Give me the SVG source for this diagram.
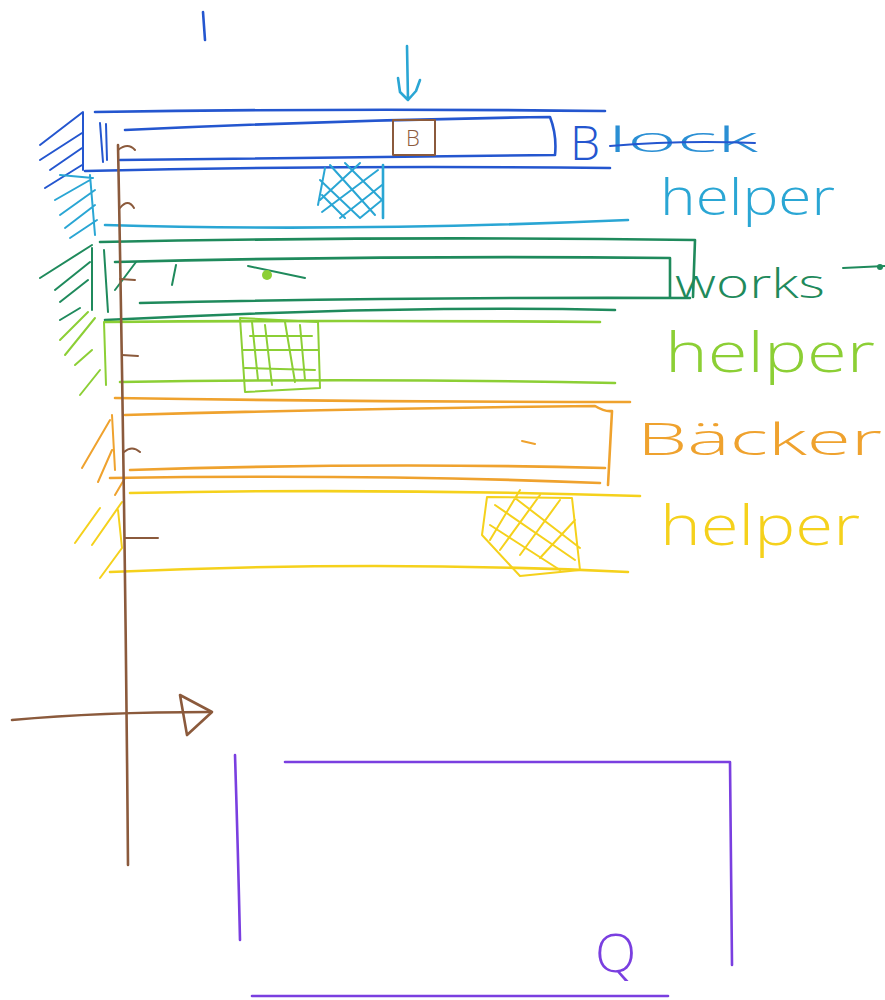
<svg xmlns="http://www.w3.org/2000/svg" width="885" height="1000" viewBox="0 0 885 1000">
<style>
.s{fill:none;stroke-width:2.6;stroke-linecap:round;stroke-linejoin:round}
.h{stroke-width:2}
.blue{stroke:#2456cf}.cyan{stroke:#2aa6d4}.teal{stroke:#1f8a5c}.lg{stroke:#8ccf35}
.or{stroke:#efa22e}.ye{stroke:#f5d11c}.br{stroke:#8b5a3c}.pu{stroke:#7a3fe0}
.t{font-family:"Open Sans","DejaVu Sans",sans-serif;font-weight:300}
</style>
<rect width="885" height="1000" fill="#fff"/>
<path class="s blue" d="M203 12 L205 40"/>
<!-- top arrow -->
<g id="load-arrow">
<path class="s cyan" d="M407 46 L408 100 M398 78 L400 92 L408 100 L416 91 L420 80"/>
</g>
<!-- Block band -->
<g id="block">
<path class="s blue" d="M95 112 Q350 108 605 111"/>
<path class="s blue" d="M125 130 Q340 120 550 117 Q557 135 555 155 Q340 158 120 160"/>
<path class="s blue" d="M85 171 Q340 165 610 168"/>
<path class="s blue h" d="M40 145 L83 112 L83 170 M40 160 L82 133 M50 170 L82 148 M45 188 L82 165 M100 123 L103 162 M106 124 L107 160"/>
<rect x="393" y="120" width="42" height="35" class="s br h"/>
<text x="413" y="146" class="t" font-size="22" fill="#8b5a3c" text-anchor="middle">B</text>
<text x="570" y="160" class="t" font-size="48" fill="#2456cf">B</text>
<text x="608" y="152" class="t" font-size="34" fill="#2a8fd4" textLength="150" lengthAdjust="spacingAndGlyphs">lock</text>
<path class="s blue h" d="M610 146 Q680 140 755 143"/>
</g>
<!-- cyan helper -->
<g id="helper-1">
<path class="s cyan" d="M105 225 Q350 232 628 220"/>
<path class="s cyan" d="M383 165 L383 218"/>
<path class="s cyan h" d="M325 168 L318 205 M320 200 L360 163 M322 212 L378 170 M340 218 L382 185 M360 218 L382 200 M330 165 L375 215 M320 180 L360 218 M345 163 L382 200 M322 195 L345 218"/>
<path class="s cyan h" d="M60 175 L93 178 M55 200 L90 180 M60 215 L95 190 M65 228 L95 205 M70 238 L97 220 M90 175 L95 235"/>
<text x="660" y="215" class="t" font-size="50" fill="#2aa6d4" textLength="175" lengthAdjust="spacingAndGlyphs">helper</text>
</g>
<!-- green works -->
<g id="works">
<path class="s teal" d="M100 242 Q400 236 695 240 L693 297"/>
<path class="s teal" d="M115 262 Q400 255 670 258 L670 297"/>
<path class="s teal" d="M140 303 Q400 297 690 298"/>
<path class="s teal" d="M105 320 Q400 305 615 310"/>
<path class="s teal h" d="M40 278 L92 245 M55 290 L90 262 M60 302 L88 280 M60 320 L80 308 M92 248 L92 310 M104 250 L108 312 M136 262 L115 290 M176 265 L172 285 M248 266 L305 278"/>
<circle cx="267" cy="275" r="5" fill="#8ccf35"/>
<text x="675" y="298" class="t" font-size="40" fill="#1f8a5c" textLength="150" lengthAdjust="spacingAndGlyphs">works</text>
<path class="s teal h" d="M843 268 L885 266"/>
<circle cx="880" cy="267" r="3" fill="#1f8a5c"/>
</g>
<!-- light green helper -->
<g id="helper-2">
<path class="s lg" d="M105 322 Q350 320 600 322"/>
<path class="s lg" d="M120 382 Q370 378 615 383"/>
<path class="s lg h" d="M240 318 L318 322 L320 388 L245 392 Z M252 322 L258 380 M265 325 L272 385 M285 322 L295 382 M300 325 L305 380 M243 350 L318 350 M245 368 L315 370 M250 336 L312 336"/>
<path class="s lg h" d="M60 340 L88 312 M65 355 L95 318 M75 365 L92 350 M80 395 L100 370 M104 322 L106 385"/>
<text x="665" y="372" class="t" font-size="56" fill="#8ccf35" textLength="210" lengthAdjust="spacingAndGlyphs">helper</text>
</g>
<!-- orange Baecker -->
<g id="baecker">
<path class="s or" d="M115 398 Q370 402 630 402"/>
<path class="s or" d="M125 415 Q380 408 595 406 Q605 412 612 411 L608 485"/>
<path class="s or" d="M130 470 Q380 462 605 468"/>
<path class="s or" d="M110 478 Q380 474 600 483"/>
<path class="s or h" d="M82 468 L110 420 M98 482 L112 450 M115 495 L125 478 M112 415 L115 470 M522 441 L535 444"/>
<text x="637" y="455" class="t" font-size="44" fill="#efa22e" textLength="245" lengthAdjust="spacingAndGlyphs">Bäcker</text>
</g>
<!-- yellow helper -->
<g id="helper-3">
<path class="s ye" d="M130 493 Q380 488 640 496"/>
<path class="s ye" d="M110 572 Q380 560 628 572"/>
<path class="s ye h" d="M487 497 L572 498 L580 570 L520 576 L482 535 Z M520 490 L490 540 M540 495 L500 550 M560 500 L520 555 M575 520 L540 558 M495 505 L575 560 M515 498 L580 548 M490 525 L560 570"/>
<path class="s ye h" d="M75 543 L100 508 M92 545 L122 502 M100 578 L122 548 M118 510 L122 548"/>
<text x="660" y="545" class="t" font-size="56" fill="#f5d11c" textLength="200" lengthAdjust="spacingAndGlyphs">helper</text>
</g>
<!-- axes -->
<g id="axes">
<path class="s br" d="M118 145 Q125 500 128 865"/>
<path class="s br h" d="M118 150 Q128 142 135 150 M120 208 Q128 198 134 208 M120 279 L135 280 M122 355 L138 356 M124 452 Q132 445 140 452 M125 538 L158 538"/>
<path class="s br" d="M12 720 Q100 712 210 712"/>
<path class="s br" d="M180 695 L212 712 L187 735 Z"/>
</g>
<!-- purple Q box -->
<g id="q-box">
<path class="s pu" d="M235 755 Q238 850 240 940"/>
<path class="s pu" d="M285 762 L730 762 L732 965"/>
<path class="s pu" d="M252 996 L668 996"/>
<text x="595" y="972" class="t" font-size="54" fill="#7a3fe0">Q</text>
</g>
</svg>
